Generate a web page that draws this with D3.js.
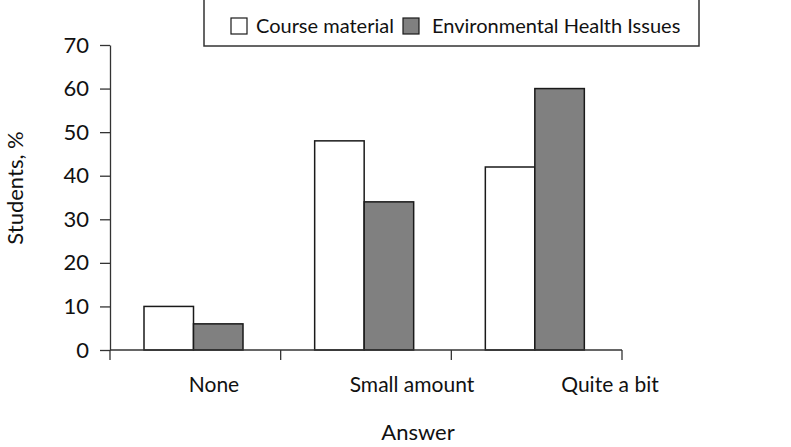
<!DOCTYPE html>
<html>
<head>
<meta charset="utf-8">
<script src="https://cdn.jsdelivr.net/npm/d3@7"></script>
<style>
  body { margin: 0; background: #fff; }
  text { font-family: Lato, 'Open Sans', sans-serif; fill: #111; }
</style>
</head>
<body>
<div id="chart"></div>
<script>
const categories = ['None', 'Small amount', 'Quite a bit'];
const seriesNames = ['Course material', 'Environmental Health Issues'];
const courseMaterial = [10, 48, 42];
const envHealth = [6, 34, 60];
const yTicks = [0, 10, 20, 30, 40, 50, 60, 70];
const seriesColors = ['#ffffff', '#808080'];

const width = 791, height = 447;
const margin = { top: 45, left: 110, bottom: 97, right: 169 };
const plotW = width - margin.left - margin.right;
const plotH = height - margin.top - margin.bottom;

const svg = d3.select('#chart').append('svg')
  .attr('width', width).attr('height', height);

const x = d3.scaleBand().domain(categories).range([0, plotW]);
const xInner = d3.scaleBand().domain(seriesNames).range([34, 133]).padding(0);
const y = d3.scaleLinear().domain([0, 70]).range([plotH, 0]);

const chart = svg.append('g').attr('transform', `translate(${margin.left},${margin.top})`);

// bars
const rows = categories.map((c, i) => ({ cat: c, vals: [courseMaterial[i], envHealth[i]] }));
const grp = chart.selectAll('.grp').data(rows).enter().append('g')
  .attr('transform', d => `translate(${x(d.cat)},0)`);
grp.selectAll('rect')
  .data(d => d.vals.map((v, k) => ({ v, k })))
  .enter().append('rect')
  .attr('x', d => xInner(seriesNames[d.k]))
  .attr('width', xInner.bandwidth())
  .attr('y', d => y(d.v))
  .attr('height', d => plotH - y(d.v))
  .attr('fill', d => seriesColors[d.k])
  .attr('stroke', '#1a1a1a')
  .attr('stroke-width', 1.5);

// y axis
const yAxis = chart.append('g')
  .call(d3.axisLeft(y).tickValues(yTicks).tickSize(10).tickPadding(11).tickSizeOuter(0));
yAxis.selectAll('text').style('font-size', '22px').style('font-family', "Lato, sans-serif").attr('fill', '#111');
yAxis.selectAll('line, path').attr('stroke', '#333').attr('stroke-width', 1.3);

// x axis: line with ticks at band edges
const xAxisG = chart.append('g').attr('transform', `translate(0,${plotH})`);
xAxisG.append('line').attr('x1', 0).attr('x2', plotW).attr('stroke', '#333').attr('stroke-width', 1.3);
const edges = categories.map(c => x(c)).concat([plotW]);
xAxisG.selectAll('.edge').data(edges).enter().append('line')
  .attr('x1', d => d).attr('x2', d => d).attr('y1', 0).attr('y2', 10)
  .attr('stroke', '#333').attr('stroke-width', 1.3);

// category labels (offset as in the original)
const xLabel = d3.scalePoint().domain(categories).range([214, 610]);
svg.selectAll('.cat').data(categories).enter().append('text')
  .attr('x', d => xLabel(d)).attr('y', 392)
  .attr('text-anchor', 'middle').style('font-size', '21px')
  .text(d => d);

// axis titles
svg.append('text').attr('x', 418).attr('y', 440).attr('text-anchor', 'middle')
  .style('font-size', '22px').text('Answer');
svg.append('text').attr('transform', 'translate(23,188) rotate(-90)')
  .attr('text-anchor', 'middle').style('font-size', '22px').text('Students, %');

// legend
const legend = svg.append('g');
legend.append('rect').attr('x', 204).attr('y', -1).attr('width', 495).attr('height', 47)
  .attr('fill', '#fff').attr('stroke', '#333').attr('stroke-width', 1.5);
const legendX = [231, 403];
const legendTextX = [256, 432];
seriesNames.forEach((s, i) => {
  legend.append('rect').attr('x', legendX[i]).attr('y', 18).attr('width', 16).attr('height', 16)
    .attr('fill', seriesColors[i]).attr('stroke', '#1a1a1a').attr('stroke-width', 1.2);
  legend.append('text').attr('x', legendTextX[i]).attr('y', 33)
    .style('font-size', '20px').text(s);
});
</script>
</body>
</html>
